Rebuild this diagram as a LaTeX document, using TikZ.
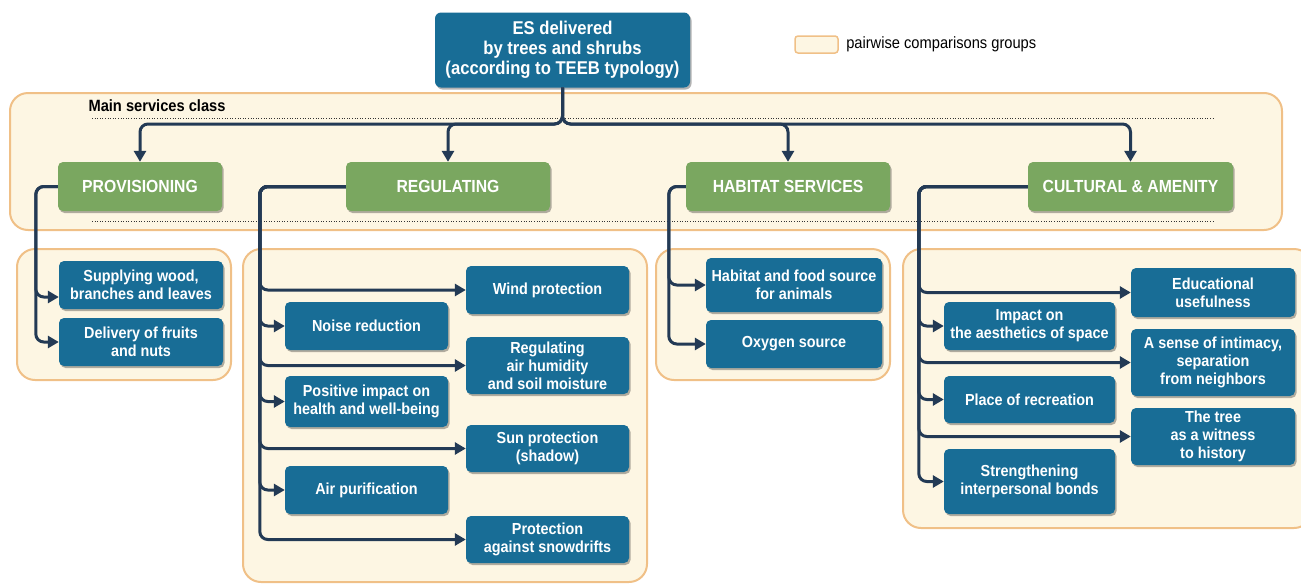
\documentclass[tikz,border=0pt]{standalone}
\usepackage{fontspec}
\setmainfont{Liberation Sans}[FakeStretch=0.9]
\usetikzlibrary{arrows.meta,positioning,calc,shadows}
\definecolor{esblue}{HTML}{186D96}
\definecolor{esgreen}{HTML}{7AA760}
\definecolor{grpfill}{HTML}{FDF6E3}
\definecolor{grpline}{HTML}{F0C087}
\definecolor{connline}{HTML}{233A55}
\begin{document}
\begin{tikzpicture}[
x=1pt,y=-1pt,
grp/.style={
  draw=grpline,
  fill=grpfill,
  line width=2pt,
  rounded corners=18pt
  },
boxshadow/.style={
  drop shadow={shadow xshift=1.5pt,shadow yshift=-2pt,fill=black,opacity=0.3}
  },
root/.style={
  fill=esblue,
  text=white,
  rounded corners=6pt,
  boxshadow,
  align=center,
  inner sep=2pt,
  font=\bfseries\fontsize{18.5}{20}\selectfont
  },
cls/.style={
  fill=esgreen,
  text=white,
  rounded corners=5pt,
  boxshadow,
  inner sep=2pt,
  minimum height=49pt,
  font=\bfseries\fontsize{17.5}{18}\selectfont
  },
svc/.style={
  fill=esblue,
  text=white,
  rounded corners=5pt,
  boxshadow,
  align=center,
  inner sep=2pt,
  font=\bfseries\fontsize{16}{18}\selectfont
  },
dotline/.style={
  draw=black!80,
  line width=0.9pt,
  dash pattern=on 1pt off 1.6pt
  },
conn/.style={
  draw=connline,
  line width=3pt,
  rounded corners=8pt
  },
>={Triangle[length=11pt,width=12pt]}
]
\useasboundingbox (0,0) rectangle (1301,584);

\draw[grp] (10,93) rectangle (1282,230);
\draw[grp] (17,249) rectangle (231,380);
\draw[grp] (243,249) rectangle (647,582);
\draw[grp] (656,249) rectangle (890,380);
\draw[grp] (903,249) rectangle (1312,528);

\node[grp,rounded corners=3pt,line width=1.5pt,minimum width=43pt,minimum height=17pt] (key) at (816.5,44.5) {};
\node[right=4pt of key,font=\fontsize{16.3}{17}\selectfont] (keytext) {pairwise comparisons groups};

\node[anchor=west,font=\bfseries\fontsize{16.3}{17}\selectfont] (mainlbl) at (85,106) {Main services class};
\draw[dotline] (92,118) -- (1213,118);
\draw[dotline] (92,221) -- (1213,221);

\node[root,minimum width=255pt,minimum height=75pt] (es) at (562.5,50) {ES delivered\\by trees and shrubs\\(according to TEEB typology)};

\node[cls,minimum width=164pt] (prov) at (140,186.5) {PROVISIONING};
\node[cls,minimum width=204pt] (reg) at (448,186.5) {REGULATING};
\node[cls,minimum width=204pt] (hab) at (788,186.5) {HABITAT SERVICES};
\node[cls,minimum width=205pt] (cult) at (1130.5,186.5) {CULTURAL \& AMENITY};

\node[svc,minimum width=164pt,minimum height=48pt] (p1) at (141,285) {Supplying wood,\\branches and leaves};
\node[svc,minimum width=164pt,minimum height=48pt] (p2) at (141,342) {Delivery of fruits\\and nuts};

\node[svc,minimum width=163pt,minimum height=48pt] (r1) at (547.5,290) {Wind protection};
\node[svc,minimum width=163pt,minimum height=48pt] (r2) at (366.5,326) {Noise reduction};
\node[svc,minimum width=163pt,minimum height=57pt] (r3) at (547.5,365.5) {Regulating\\air humidity\\and soil moisture};
\node[svc,minimum width=163pt,minimum height=51pt] (r4) at (366.5,401.5) {Positive impact on\\health and well-being};
\node[svc,minimum width=163pt,minimum height=47pt] (r5) at (547.5,448.5) {Sun protection\\(shadow)};
\node[svc,minimum width=163pt,minimum height=48pt] (r6) at (366.5,490) {Air purification};
\node[svc,minimum width=163pt,minimum height=47pt] (r7) at (547.5,539.5) {Protection\\against snowdrifts};

\node[svc,minimum width=176pt,minimum height=54pt] (h1) at (794,285) {Habitat and food source\\for animals};
\node[svc,minimum width=176pt,minimum height=48pt] (h2) at (794,344) {Oxygen source};

\node[svc,minimum width=164pt,minimum height=49pt] (c1) at (1213,292.5) {Educational\\usefulness};
\node[svc,minimum width=171pt,minimum height=48pt] (c2) at (1029.5,326) {Impact on\\the aesthetics of space};
\node[svc,minimum width=164pt,minimum height=67pt] (c3) at (1213,362.5) {A sense of intimacy,\\separation\\from neighbors};
\node[svc,minimum width=171pt,minimum height=47pt] (c4) at (1029.5,399.5) {Place of recreation};
\node[svc,minimum width=164pt,minimum height=57pt] (c5) at (1213,436.5) {The tree\\as a witness\\to history};
\node[svc,minimum width=171pt,minimum height=65pt] (c6) at (1029.5,481.5) {Strengthening\\interpersonal bonds};

\coordinate (fork) at (562.5,124);
\foreach \c in {prov,reg,hab,cult}
  \draw[conn,->] (es.south) -- (fork) -| (\c.north);

\draw[conn,->] (prov.west) -- ++(-22,0) |- ($(p1.west)+(0,12)$);
\draw[conn,->] (prov.west) -- ++(-22,0) |- (p2.west);
\foreach \s in {1,...,7}
  \draw[conn,->] (reg.west) -- ++(-86,0) |- (r\s.west);
\foreach \s in {1,2}
  \draw[conn,->] (hab.west) -- ++(-17,0) |- (h\s.west);
\foreach \s in {1,...,6}
  \draw[conn,->] (cult.west) -- ++(-109,0) |- (c\s.west);
\end{tikzpicture}
\end{document}
